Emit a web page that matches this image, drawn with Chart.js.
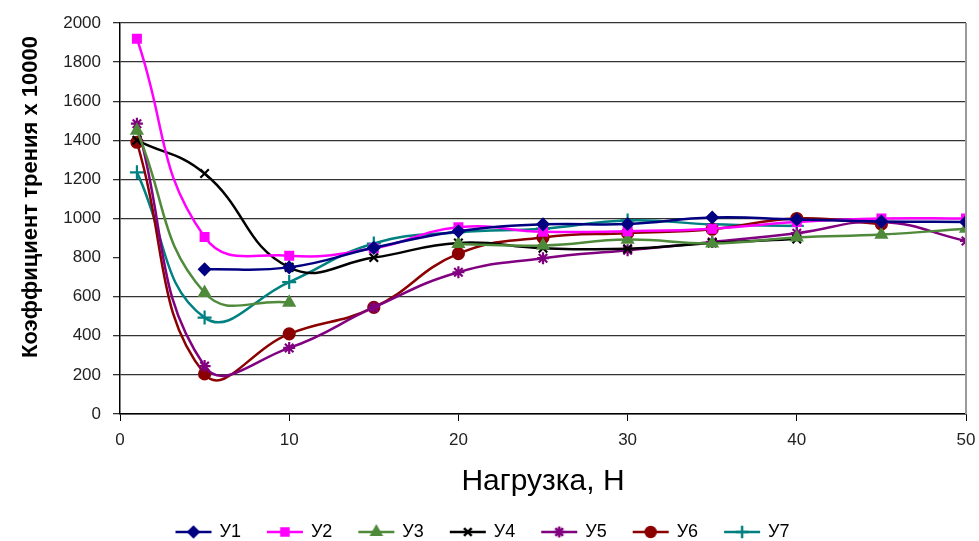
<!DOCTYPE html>
<html><head><meta charset="utf-8">
<script src="https://cdn.jsdelivr.net/npm/chart.js@4.4.0/dist/chart.umd.min.js"></script>
<style>html,body{margin:0;padding:0;background:#fff}</style>
</head><body>
<canvas id="c" width="979" height="541"></canvas>
<script>
// ---- data ----
const loads = [1, 5, 10, 15, 20, 25, 30, 35, 40, 45, 50];
const seriesNames = ['У1', 'У2', 'У3', 'У4', 'У5', 'У6', 'У7'];
const u1 = [null, 740, 750, 850, 935, 970, 972, 1005, 995, 985, 982];
const u2 = [1920, 905, 810, 848, 955, 932, 935, 948, 982, 1000, 1000];
const u3 = [1450, 620, 570, null, 870, 862, 892, 872, 903, 918, 948];
const u4 = [1400, 1230, 750, 800, 875, 848, 845, 875, 895, null, null];
const u5 = [1485, 245, 338, 545, 725, 797, 838, 880, 925, 982, 885];
const u6 = [1390, 205, 410, 545, 820, 903, 925, 945, 1000, 972, null];
const u7 = [1236, 493, 675, 872, 930, 948, 990, 970, 962, null, null];
const yTicks = [0, 200, 400, 600, 800, 1000, 1200, 1400, 1600, 1800, 2000];
const xTicks = [0, 10, 20, 30, 40, 50];
const xTitle = 'Нагрузка, Н';
const yTitle = 'Коэффициент трения х 10000';

const colors = ['#000080', '#FF00FF', '#4F8A3B', '#000000', '#800080', '#8B0000', '#008080'];
const styles = ['rectRot', 'rect', 'triangle', 'crossRot', 'star', 'circle', 'cross'];
const radii = [5.5, 5.5, 6, 6, 6, 5.5, 7];
const values = [u1, u2, u3, u4, u5, u6, u7];
const FONT = 'Liberation Sans, Arial, sans-serif';

function legendIcon(color, style, r) {
  const cv = document.createElement('canvas');
  cv.width = 40; cv.height = 16;
  const g = cv.getContext('2d');
  g.strokeStyle = color; g.fillStyle = color; g.lineWidth = 2.5;
  g.beginPath(); g.moveTo(2, 8); g.lineTo(38, 8); g.stroke();
  Chart.helpers.drawPoint(g, {pointStyle: style, radius: r * 0.9, rotation: 0, borderWidth: 2.2}, 20, 8);
  return cv;
}
const icons = colors.map((c, i) => legendIcon(c, styles[i], radii[i]));

const datasets = seriesNames.map((name, i) => ({
  label: name,
  data: loads.map((x, k) => ({x: x, y: values[i][k]})),
  borderColor: colors[i],
  backgroundColor: colors[i],
  borderWidth: 2.5,
  pointStyle: styles[i],
  pointRadius: radii[i],
  pointBorderWidth: 2.2,
  pointBackgroundColor: colors[i],
  pointBorderColor: colors[i],
  tension: 0.45,
  spanGaps: false,
  fill: false
}));

const frame = {
  id: 'frame',
  afterDraw(chart) {
    const a = chart.chartArea, g = chart.ctx;
    g.save();
    g.strokeStyle = '#9a9a9a'; g.lineWidth = 2;
    g.beginPath(); g.moveTo(a.right, a.top); g.lineTo(a.right, a.bottom); g.stroke();
    // y axis title (vertical), placed like the reference
    g.translate(31, 197);
    g.rotate(-Math.PI / 2);
    g.fillStyle = '#000';
    g.font = 'bold 22px ' + FONT;
    g.textAlign = 'center'; g.textBaseline = 'middle';
    g.fillText(yTitle, 0, 0);
    g.restore();
  }
};

new Chart(document.getElementById('c'), {
  type: 'line',
  data: {datasets},
  plugins: [frame],
  options: {
    responsive: false,
    animation: false,
    layout: {padding: {top: 23, right: 13, left: 0, bottom: -10}},
    plugins: {
      tooltip: {enabled: false},
      legend: {
        position: 'bottom',
        labels: {
          usePointStyle: true,
          pointStyleWidth: 34,
          padding: 27,
          color: '#000',
          font: {family: FONT, size: 18},
          generateLabels: (chart) => chart.data.datasets.map((ds, i) => ({
            text: ds.label, pointStyle: icons[i], fillStyle: colors[i],
            strokeStyle: colors[i], lineWidth: 0, hidden: false, datasetIndex: i, fontColor: '#000'
          }))
        }
      }
    },
    scales: {
      x: {
        type: 'linear', min: 0, max: 50,
        afterBuildTicks: (s) => { s.ticks = xTicks.map(v => ({value: v})); },
        afterFit: (s) => { s.height = 82; s.paddingRight = 0; s.paddingLeft = 0; },
        border: {color: '#000', width: 1.5},
        grid: {drawOnChartArea: false, drawTicks: true, tickLength: 7, color: '#000', tickColor: '#000'},
        ticks: {color: '#222', padding: 9, font: {family: FONT, size: 17},
                callback: (v) => String(v)},
        title: {display: true, text: xTitle, color: '#000', padding: {top: 0, bottom: -4},
                font: {family: FONT, size: 30}}
      },
      y: {
        type: 'linear', min: 0, max: 2000,
        afterBuildTicks: (s) => { s.ticks = yTicks.map(v => ({value: v})); },
        afterFit: (s) => { s.width = 120; },
        border: {color: '#000', width: 1.5},
        grid: {
          color: (c) => (c.tick && c.tick.value === 800) ? 'rgba(0,0,0,0)' : '#333',
          tickColor: '#333', lineWidth: 1.3, tickLength: 7
        },
        ticks: {color: '#222', padding: 12, font: {family: FONT, size: 17},
                callback: (v) => String(v)},
        title: {display: false}
      }
    }
  }
});
</script>
</body></html>
